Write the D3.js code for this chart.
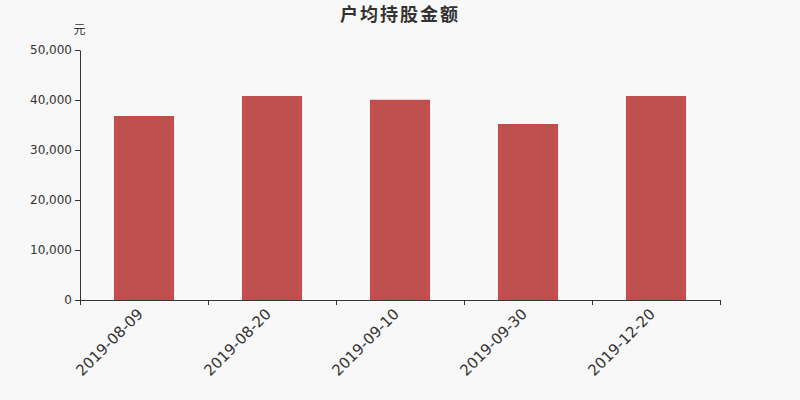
<!DOCTYPE html>
<html>
<head>
<meta charset="utf-8">
<script src="https://cdn.jsdelivr.net/npm/d3@7"></script>
<style>
  body { margin: 0; background: #f8f8f8; }
  svg { display: block; }
</style>
</head>
<body>
<svg id="chart" width="800" height="400"></svg>
<script>
var categories = ["2019-08-09", "2019-08-20", "2019-09-10", "2019-09-30", "2019-12-20"];
var values = [36800, 40800, 40050, 35200, 40800];
var yTicks = [0, 10000, 20000, 30000, 40000, 50000];

var font = "'DejaVu Sans', sans-serif";
var cjk = "'Noto Sans CJK SC', sans-serif";

var svg = d3.select("#chart");
var margin = {top: 50, right: 80, bottom: 100, left: 80};
var width = 800 - margin.left - margin.right;
var height = 400 - margin.top - margin.bottom;

svg.append("rect").attr("width", 800).attr("height", 400).attr("fill", "#f8f8f8");

svg.append("text")
    .attr("x", 400).attr("y", 21)
    .attr("text-anchor", "middle")
    .attr("font-family", cjk)
    .attr("font-size", 18).attr("font-weight", "bold")
    .attr("letter-spacing", 2)
    .attr("fill", "#333")
    .text("户均持股金额");

svg.append("text")
    .attr("x", 79.5).attr("y", 34)
    .attr("text-anchor", "middle")
    .attr("font-family", cjk)
    .attr("font-size", 12)
    .attr("fill", "#333")
    .text("元");

var g = svg.append("g")
    .attr("transform", "translate(" + margin.left + "," + margin.top + ")");

var x = d3.scaleBand().domain(categories).range([0, width]).paddingInner(0.53).paddingOuter(0.265);
var xTick = d3.scalePoint().domain(d3.range(categories.length + 1)).range([0, width]);
var y = d3.scaleLinear().domain([0, 50000]).range([height, 0]);

g.selectAll(".bar")
    .data(values)
    .enter().append("rect")
    .attr("class", "bar")
    .attr("x", function(d, i) { return x(categories[i]); })
    .attr("width", x.bandwidth())
    .attr("y", function(d) { return y(d); })
    .attr("height", function(d) { return height - y(d); })
    .attr("fill", "#c0504d");

var yAxis = g.append("g")
    .call(d3.axisLeft(y).tickValues(yTicks).tickSize(5).tickPadding(3)
        .tickFormat(d3.format(",")))
    .attr("font-family", font)
    .attr("font-size", 12);
yAxis.selectAll("text").attr("fill", "#333");
yAxis.selectAll("line, path").attr("stroke", "#333");
yAxis.select(".domain").attr("d", "M0.5," + height + "V0.5");

var xAxis = g.append("g")
    .attr("transform", "translate(0," + height + ")");
xAxis.append("line")
    .attr("x1", 0).attr("x2", width).attr("y1", 0.5).attr("y2", 0.5)
    .attr("stroke", "#333");
xAxis.selectAll(".tick")
    .data(d3.range(categories.length + 1))
    .enter().append("line")
    .attr("x1", function(d) { return xTick(d) + 0.5; })
    .attr("x2", function(d) { return xTick(d) + 0.5; })
    .attr("y1", 0).attr("y2", 5)
    .attr("stroke", "#333");
xAxis.selectAll(".lbl")
    .data(categories)
    .enter().append("text")
    .attr("transform", function(d) {
        return "translate(" + (x(d) + x.bandwidth() / 2) + ",15) rotate(-45)";
    })
    .attr("text-anchor", "end")
    .attr("font-family", font)
    .attr("font-size", 15)
    .attr("fill", "#333")
    .text(function(d) { return d; });
</script>
</body>
</html>
